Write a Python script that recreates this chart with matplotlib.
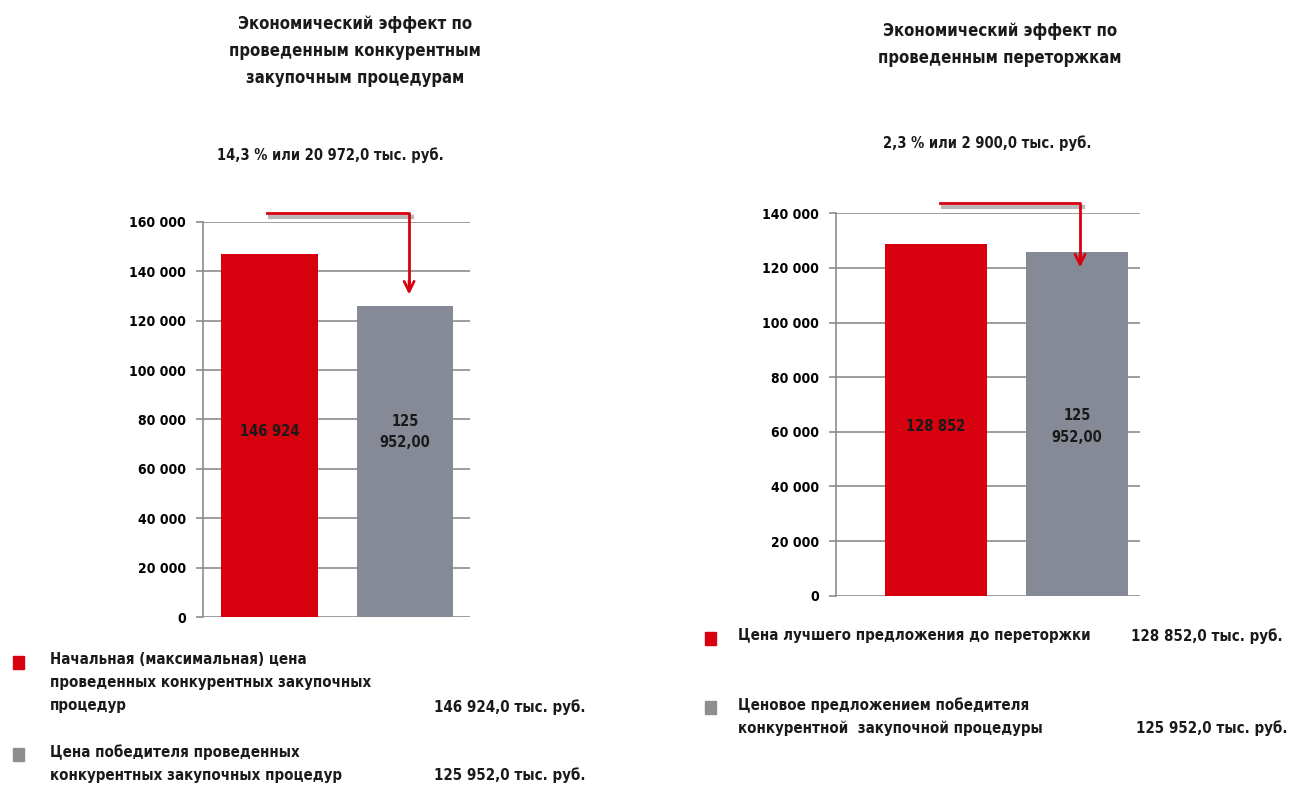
import matplotlib.pyplot as plt
import matplotlib.transforms as mtransforms
from matplotlib import font_manager

names = {f.name for f in font_manager.fontManager.ttflist}
narrow = 'Liberation Sans Narrow' if 'Liberation Sans Narrow' in names else 'DejaVu Sans'
plt.rcParams['font.family'] = [narrow, 'DejaVu Sans']
plt.rcParams['font.stretch'] = 'condensed'

# data
left_values = [146924, 125952]
left_labels = ["146 924", "125\n952,00"]
right_values = [128852, 125952]
right_labels = ["128 852", "125\n952,00"]

left_title = "Экономический эффект по\nпроведенным конкурентным\nзакупочным процедурам"
right_title = "Экономический эффект по\nпроведенным переторжкам"
left_sub = "14,3 % или 20 972,0 тыс. руб."
right_sub = "2,3 % или 2 900,0 тыс. руб."

left_legend = ["Начальная (максимальная) цена\nпроведенных конкурентных закупочных\nпроцедур",
               "Цена победителя проведенных\nконкурентных закупочных процедур"]
left_amounts = ["146 924,0 тыс. руб.", "125 952,0 тыс. руб."]
right_legend = ["Цена лучшего предложения до переторжки",
                "Ценовое предложением победителя\nконкурентной  закупочной процедуры"]
right_amounts = ["128 852,0 тыс. руб.", "125 952,0 тыс. руб."]

RED = "#d7000f"
GRAY = "#868a96"
colors = [RED, GRAY]

fig = plt.figure(figsize=(12.9, 7.87), dpi=100)


def draw(ax, values, labels, label_y, ymax, step, xlim, width, arrow):
    ax.bar([0, 1], values, width=width, color=colors, zorder=3)
    ax.set_xlim(*xlim)
    ax.set_ylim(0, ymax)
    ticks = list(range(0, ymax + 1, step))
    ax.set_yticks(ticks)
    ax.set_yticklabels([f"{v:,}".replace(",", " ") for v in ticks])
    ax.grid(axis='y', color='#8c8c8c', lw=1.2, zorder=0)
    ax.set_xticks([])
    for s in ['top', 'right', 'bottom']:
        ax.spines[s].set_visible(False)
    ax.spines['left'].set_color('#8c8c8c')
    ax.spines['left'].set_linewidth(1.2)
    ax.tick_params(axis='y', length=5, color='#8c8c8c', width=1.2, labelsize=10, pad=7)
    for t in ax.get_yticklabels():
        t.set_fontweight('bold')
        t.set_fontstretch('condensed')
    for i, lab in enumerate(labels):
        ax.text(i, label_y, lab, ha='center', va='center', fontsize=10.5,
                fontweight='bold', color='#1a1a1a', zorder=4, linespacing=1.55)
    x0, x1, y0, y1 = arrow
    shadow = ax.transData + mtransforms.ScaledTranslation(2 / 72, -3 / 72, fig.dpi_scale_trans)
    ax.plot([x0, x1], [y0, y0], color='#b8b8b8', lw=3, clip_on=False, zorder=4,
            transform=shadow)
    ax.plot([x0, x1, x1], [y0, y0, y1 + 0.02 * ymax], color=RED, lw=2, clip_on=False, zorder=5)
    ax.annotate("", xy=(x1, y1), xytext=(x1, y1 + 0.05 * ymax),
                arrowprops=dict(arrowstyle='->', color=RED, lw=2, mutation_scale=18),
                annotation_clip=False, zorder=5)


ax1 = fig.add_axes([0.157, 0.216, 0.207, 0.502])
draw(ax1, left_values, left_labels, 75000, 160000, 20000, (-0.494, 1.476), 0.71,
     (-0.015, 1.03, 163500, 129500))

ax2 = fig.add_axes([0.648, 0.243, 0.236, 0.486])
draw(ax2, right_values, right_labels, 62000, 140000, 20000, (-0.709, 1.447), 0.72,
     (0.03, 1.02, 143700, 119200))

# titles
tkw = dict(ha='center', va='top', fontsize=12, fontweight='bold', color='#1a1a1a',
           linespacing=1.63)
fig.text(355 / 1290, 1 - 15 / 787, left_title, **tkw)
fig.text(1000 / 1290, 1 - 22 / 787, right_title, **tkw)
fig.text(330 / 1290, 1 - 155 / 787, left_sub, ha='center', va='center', fontsize=10.5,
         fontweight='bold', color='#1a1a1a')
fig.text(987 / 1290, 1 - 143 / 787, right_sub, ha='center', va='center', fontsize=10.5,
         fontweight='bold', color='#1a1a1a')

# legends
lkw = dict(fontsize=10.8, fontweight='bold', color='#1a1a1a', va='top', linespacing=1.65)


def legend_item(x_sq, y_top, x_txt, text, x_val, amount, color, lines):
    fig.patches.append(plt.Rectangle((x_sq / 1290, 1 - (y_top + 17) / 787), 11 / 1290, 13 / 787,
                                     transform=fig.transFigure, color=color, figure=fig))
    fig.text(x_txt / 1290, 1 - y_top / 787, text, **lkw)
    y_val = y_top + (lines - 1) * 23.5
    fig.text(x_val / 1290, 1 - y_val / 787, amount, ha='right', **lkw)


legend_item(13, 652, 50, left_legend[0], 585, left_amounts[0], RED, 3)
legend_item(13, 744, 50, left_legend[1], 585, left_amounts[1], '#8e8e8e', 2)
legend_item(705, 628, 738, right_legend[0], 1283, right_amounts[0], RED, 1)
legend_item(705, 697, 738, right_legend[1], 1287, right_amounts[1], '#8e8e8e', 2)

fig.savefig("out.png", dpi=100)
